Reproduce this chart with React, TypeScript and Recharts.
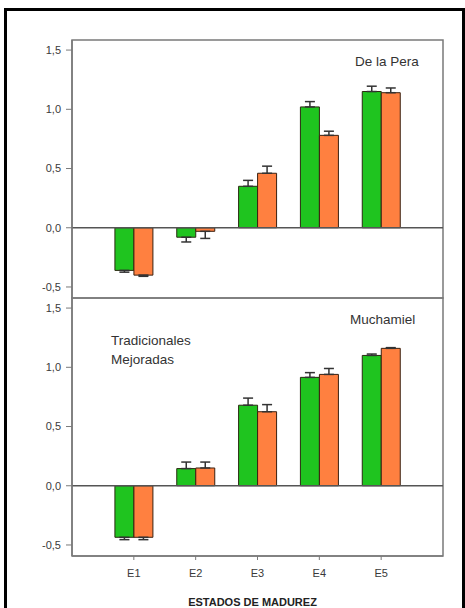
import React from 'react';
import { BarChart, Bar, XAxis, YAxis, ErrorBar, ReferenceLine, ReferenceArea } from 'recharts';

const categories = ['E1', 'E2', 'E3', 'E4', 'E5'];
const peraTrad = [-0.36, -0.08, 0.35, 1.02, 1.15];
const peraTradErr = [0.015, 0.04, 0.05, 0.045, 0.045];
const peraMej = [-0.4, -0.03, 0.46, 0.78, 1.14];
const peraMejErr = [0.01, 0.06, 0.06, 0.035, 0.04];
const muchTrad = [-0.435, 0.145, 0.68, 0.915, 1.1];
const muchTradErr = [0.02, 0.055, 0.06, 0.04, 0.012];
const muchMej = [-0.435, 0.15, 0.625, 0.94, 1.16];
const muchMejErr = [0.02, 0.05, 0.06, 0.05, 0.006];
const yTicks = [-0.5, 0, 0.5, 1, 1.5];
const xTicks = [1, 2, 3, 4, 5];
const seriesNames = ['Tradicionales', 'Mejoradas'];

const FONT = "'Liberation Sans', Arial, sans-serif";
const GREEN = '#1fc41f';
const ORANGE = '#ff8040';
const FRAME = '#7a7a7a';
const Y_DOMAIN: [number, number] = [-0.593, 1.585];
const X_DOMAIN: [number, number] = [0, 6];

const dir = (v: number, e: number) => (v >= 0 ? [0, e] : [e, 0]);

const build = (a: number[], ae: number[], b: number[], be: number[]) =>
  categories.map((cat, i) => ({
    cat,
    x: xTicks[i],
    trad: a[i],
    tradErr: dir(a[i], ae[i]),
    mej: b[i],
    mejErr: dir(b[i], be[i]),
  }));

const peraData = build(peraTrad, peraTradErr, peraMej, peraMejErr);
const muchData = build(muchTrad, muchTradErr, muchMej, muchMejErr);

const fmt = (v: number) => v.toFixed(1).replace('.', ',');
const xFmt = (v: number) => categories[xTicks.indexOf(v)] ?? '';
const tickStyle = { fontSize: 11, fill: '#3a3a3a', fontFamily: FONT };

function Panel({ data, height, top, bottomAxis }: { data: any[]; height: number; top: number; bottomAxis: boolean }) {
  return (
    <BarChart
      width={465}
      height={height}
      data={data}
      margin={{ top, right: 22, bottom: bottomAxis ? 0 : 2, left: 0 }}
      barSize={19}
      barGap={0}
    >
      <XAxis
        dataKey="x"
        type="number"
        domain={X_DOMAIN}
        ticks={xTicks}
        interval={0}
        allowDataOverflow
        tickFormatter={xFmt}
        height={bottomAxis ? 52 : 0}
        tick={bottomAxis ? tickStyle : false}
        tickSize={bottomAxis ? 4 : 0}
        tickMargin={9}
        tickLine={bottomAxis ? { stroke: FRAME } : false}
        axisLine={{ stroke: FRAME, strokeWidth: 1.5 }}
        label={
          bottomAxis
            ? {
                value: 'ESTADOS DE MADUREZ',
                position: 'insideBottom',
                offset: 2,
                dx: -5,
                style: { fontSize: 11, fontWeight: 'bold', fill: '#222', fontFamily: FONT },
              }
            : undefined
        }
      />
      <YAxis
        width={72}
        domain={Y_DOMAIN}
        ticks={yTicks}
        allowDataOverflow
        interval={0}
        tickFormatter={fmt}
        tick={tickStyle}
        tickSize={6}
        tickMargin={5}
        tickLine={{ stroke: FRAME }}
        axisLine={{ stroke: FRAME, strokeWidth: 1.5 }}
      />
      <ReferenceArea
        x1={X_DOMAIN[0]}
        x2={X_DOMAIN[1]}
        y1={Y_DOMAIN[0]}
        y2={Y_DOMAIN[1]}
        fill="none"
        fillOpacity={0}
        stroke={FRAME}
        strokeWidth={1.5}
        ifOverflow="visible"
      />
      <ReferenceLine y={0} stroke="#555" strokeWidth={1.5} />
      <Bar dataKey="trad" name={seriesNames[0]} fill={GREEN} stroke="#2a2a10" strokeWidth={1} isAnimationActive={false}>
        <ErrorBar dataKey="tradErr" width={5} stroke="#333" strokeWidth={1.5} direction="y" />
      </Bar>
      <Bar dataKey="mej" name={seriesNames[1]} fill={ORANGE} stroke="#3a2010" strokeWidth={1} isAnimationActive={false}>
        <ErrorBar dataKey="mejErr" width={5} stroke="#333" strokeWidth={1.5} direction="y" />
      </Bar>
    </BarChart>
  );
}

const note = (left: number, top: number, text: string) => (
  <div
    style={{
      position: 'absolute',
      left,
      top,
      fontFamily: FONT,
      fontSize: 13.5,
      color: '#333',
      lineHeight: '16px',
      whiteSpace: 'nowrap',
    }}
  >
    {text}
  </div>
);

export default function App() {
  return (
    <div style={{ position: 'absolute', left: 0, top: 0, width: 465, height: 608, overflow: 'hidden', background: '#fff' }}>
      <div style={{ position: 'absolute', left: 0, top: 0 }}>
        <Panel data={peraData} height={300} top={40} bottomAxis={false} />
      </div>
      <div style={{ position: 'absolute', left: 0, top: 290 }}>
        <Panel data={muchData} height={318} top={8} bottomAxis={true} />
      </div>
      {note(355, 54, 'De la Pera')}
      {note(350, 312, 'Muchamiel')}
      {note(111, 333, seriesNames[0])}
      {note(111, 352, seriesNames[1])}
      <div
        style={{
          position: 'absolute',
          left: 4,
          top: 8,
          width: 455,
          height: 640,
          border: '3px solid #000',
          pointerEvents: 'none',
        }}
      />
    </div>
  );
}
